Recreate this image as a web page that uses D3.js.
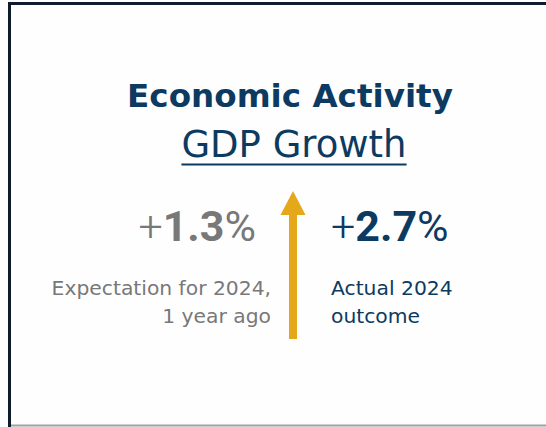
<!DOCTYPE html>
<html>
<head>
<meta charset="utf-8">
<script src="https://cdn.jsdelivr.net/npm/d3@7"></script>
<style>
  html, body { margin: 0; padding: 0; background: #fff; }
  svg { display: block; }
</style>
</head>
<body>
<svg id="chart" width="546" height="427"></svg>
<script>
const title = "Economic Activity";
const subtitle = "GDP Growth";
const labels = ["Expectation for 2024,|1 year ago", "Actual 2024|outcome"];
const values = [1.3, 2.7];
const seriesNames = ["expected", "actual"];

const navy = "#0c3a60";
const gray = "#787878";
const gold = "#e5a81a";

const svg = d3.select("#chart");
const font = "'DejaVu Sans', sans-serif";
const numFont = "Roboto, 'Liberation Sans', sans-serif";

// frame
svg.append("rect").attr("x", 0).attr("y", 0).attr("width", 546).attr("height", 427).attr("fill", "#fefefe");
svg.append("line").attr("x1", 8).attr("x2", 546).attr("y1", 3.5).attr("y2", 3.5)
  .attr("stroke", "#0d1b2c").attr("stroke-width", 3);
svg.append("line").attr("x1", 9.5).attr("x2", 9.5).attr("y1", 2).attr("y2", 427)
  .attr("stroke", "#0d1b2c").attr("stroke-width", 3);
svg.append("line").attr("x1", 11).attr("x2", 546).attr("y1", 425.5).attr("y2", 425.5)
  .attr("stroke", "#a0a0a0").attr("stroke-width", 2);

// titles
svg.append("text").attr("x", 290).attr("y", 107).attr("text-anchor", "middle")
  .attr("font-family", font).attr("font-weight", 700).attr("font-size", 32.6)
  .attr("fill", navy).text(title);
const sub = svg.append("text").attr("x", 294).attr("y", 157).attr("text-anchor", "middle")
  .attr("font-family", font).attr("font-weight", 400).attr("font-size", 37)
  .attr("fill", navy).text(subtitle);
const sb = sub.node().getBBox();
svg.append("line").attr("x1", sb.x).attr("x2", sb.x + sb.width).attr("y1", 164.5).attr("y2", 164.5)
  .attr("stroke", navy).attr("stroke-width", 2);

// arrow: vertical scale from expected to actual
const y = d3.scaleLinear().domain([values[0], values[1]]).range([339, 191]);
const ax = 293;
svg.append("rect").attr("x", ax - 4).attr("y", y(values[1]) + 20)
  .attr("width", 8).attr("height", y(values[0]) - y(values[1]) - 20).attr("fill", gold);
svg.append("path").attr("d", d3.line()([[ax - 12.5, y(values[1]) + 24], [ax, y(values[1])], [ax + 12.5, y(values[1]) + 24]]) + "Z")
  .attr("fill", gold);

// values
const fmt = d3.format(".1f");
const cols = [
  { anchor: "end", x: 256, color: gray, lx: 271 },
  { anchor: "start", x: 331, color: navy, lx: 331 }
];
values.forEach((v, i) => {
  const c = cols[i];
  const t = svg.append("text").attr("x", c.x).attr("y", 241).attr("text-anchor", c.anchor)
    .attr("font-family", numFont).attr("font-size", 43).attr("fill", c.color);
  t.append("tspan").attr("font-weight", 300).text("+");
  t.append("tspan").attr("font-weight", 700).text(fmt(v));
  t.append("tspan").attr("font-weight", 400).text("%");
  labels[i].split("|").forEach((line, j) => {
    svg.append("text").attr("x", c.lx).attr("y", 295 + j * 28).attr("text-anchor", c.anchor)
      .attr("font-family", font).attr("font-size", 20.3).attr("fill", c.color).text(line);
  });
});
</script>
</body>
</html>
